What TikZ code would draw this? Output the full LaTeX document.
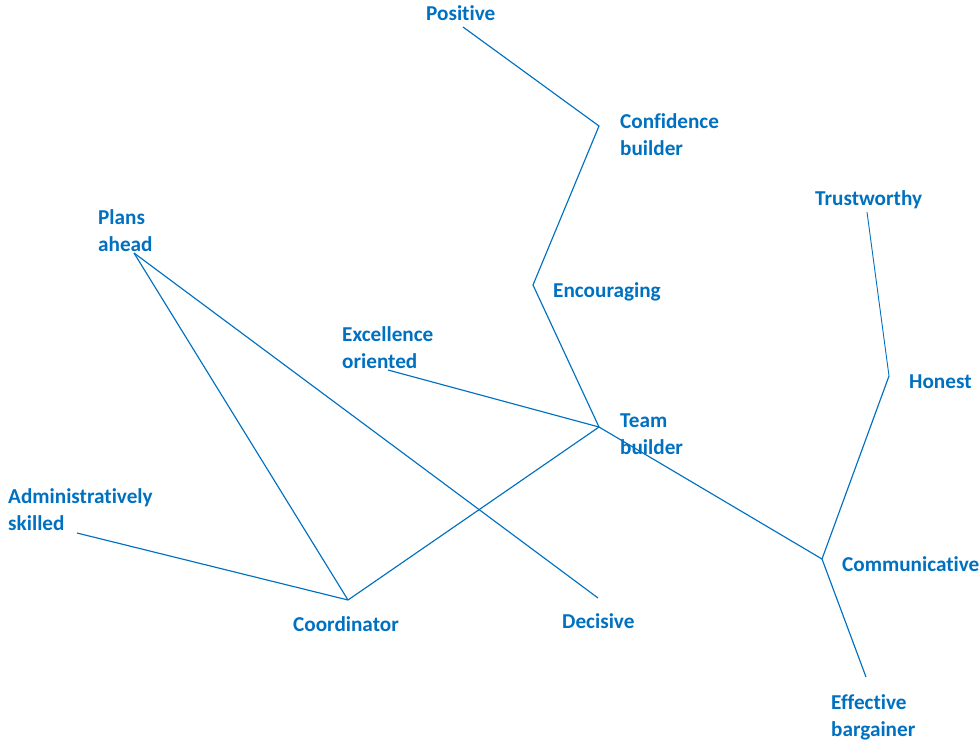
\documentclass[tikz,border=0pt]{standalone}
\usepackage{fontspec}
\setmainfont{Carlito}[Ligatures=NoCommon]
\definecolor{wblue}{RGB}{0,112,192}
\begin{document}
\begin{tikzpicture}[x=1pt,y=-1pt,
  lbl/.style={anchor=base west,inner sep=0pt,align=left,text=wblue,
    font=\fontsize{21.2}{27}\selectfont\bfseries},
  link/.style={draw=wblue,line width=1.15pt}]
\useasboundingbox (0,0) rectangle (980,740);
% labels (base = baseline of last line)
\node[lbl] (tPos) at (426,20) {Positive};
\node[lbl] (tConf) at (620,155) {Confidence\\builder};
\node[lbl] (tPlans) at (98,251) {Plans\\ahead};
\node[lbl] (tTrust) at (815,205) {Trustworthy};
\node[lbl] (tEnc) at (553,297) {Encouraging};
\node[lbl] (tExc) at (342,368) {Excellence\\oriented};
\node[lbl] (tHon) at (909,388) {Honest};
\node[lbl] (tTeam) at (620,454) {Team\\builder};
\node[lbl] (tAdm) at (8,530) {Administratively\\skilled};
\node[lbl] (tComm) at (842,571) {Communicative};
\node[lbl] (tCoord) at (293,631) {Coordinator};
\node[lbl] (tDec) at (562,628) {Decisive};
\node[lbl] (tEff) at (831,736) {Effective\\bargainer};
% vertices and ends
\coordinate (pos) at (463,27);
\coordinate (conf) at (599,126);
\coordinate (enc) at (533,285);
\coordinate (team) at (599,427);
\coordinate (exc) at (388,370);
\coordinate (coord) at (348,600);
\coordinate (comm) at (822,559);
\coordinate (hon) at (889,376);
\coordinate (trust) at (867,212);
\coordinate (eff) at (866,677);
\coordinate (plans) at (134,253);
\coordinate (dec) at (598,598);
\coordinate (adm) at (77,533);
% connectors
\draw[link] (pos) -- (conf) -- (enc) -- (team);
\draw[link] (exc) -- (team);
\draw[link] (team) -- (coord);
\draw[link] (team) -- (comm);
\draw[link] (comm) -- (hon);
\draw[link,line width=0.9pt] (hon) -- (trust);
\draw[link] (comm) -- (eff);
\draw[link] (plans) -- (coord);
\draw[link] (plans) -- (dec);
\draw[link] (adm) -- (coord);
\end{tikzpicture}
\end{document}
